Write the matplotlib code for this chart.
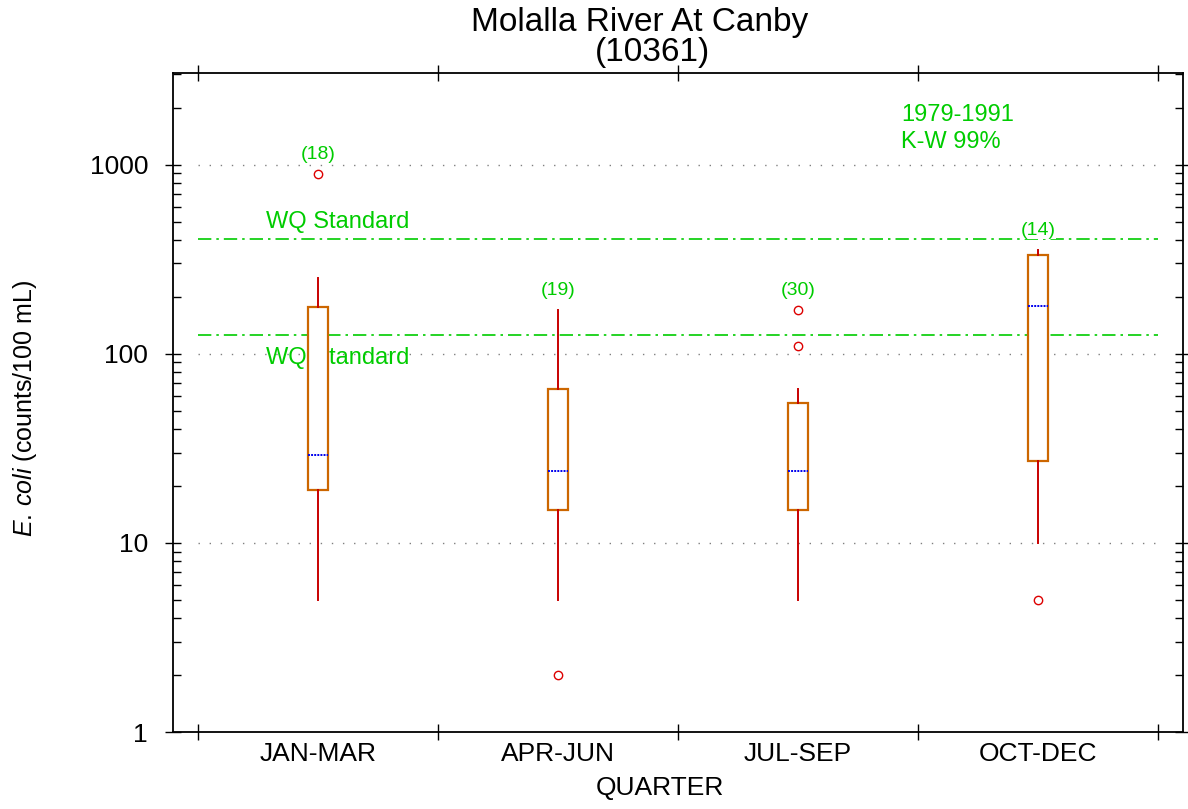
import matplotlib
matplotlib.use("Agg")
import matplotlib.pyplot as plt
import numpy as np

plt.rcParams['font.family'] = ['Liberation Sans', 'DejaVu Sans']
plt.rcParams['mathtext.fontset'] = 'custom'
plt.rcParams['mathtext.it'] = 'Liberation Sans:italic'
plt.rcParams['mathtext.rm'] = 'Liberation Sans'

quarters = ['JAN-MAR', 'APR-JUN', 'JUL-SEP', 'OCT-DEC']
counts = [18, 19, 30, 14]
whis_lo = [5, 5, 5, 10]
q1 = [19, 15, 15, 27]
med = [29, 24, 24, 178]
q3 = [176, 65, 55, 334]
whis_hi = [250, 170, 65, 355]
outliers = [[890], [2], [110, 170], [5]]
wq_standards = [406, 126]
grid_vals = [10, 100, 1000]

fig = plt.figure(figsize=(11.88, 8.09), dpi=100)
ax = fig.add_axes([173/1188, 1-732/809, 1010/1188, 659/809])

green = '#00cc00'
pos = np.arange(1, len(quarters) + 1)

# grid and standards
ax.hlines(grid_vals, 0.5, 4.5, colors='#808080', linestyles=(0, (1, 7)), lw=1.0, zorder=1)
ax.hlines(wq_standards, 0.5, 4.5, colors=green, linestyles=(0, (8, 3, 1.5, 3)), lw=1.2, zorder=1)

stats = []
for i in range(len(quarters)):
    stats.append(dict(med=med[i], q1=q1[i], q3=q3[i], whislo=whis_lo[i],
                      whishi=whis_hi[i], fliers=outliers[i]))

ax.bxp(stats, positions=pos, widths=0.085, showcaps=False, patch_artist=True,
       boxprops=dict(facecolor='white', edgecolor='#cc6600', lw=1.6),
       whiskerprops=dict(color='#c80000', lw=1.4),
       medianprops=dict(color='#0000ee', lw=1.4, ls=(0, (1, 0.6))),
       flierprops=dict(marker='o', markersize=6, markerfacecolor='none',
                       markeredgecolor='#dd0000', markeredgewidth=1.0),
       zorder=3)

for i in range(len(quarters)):
    top = max([whis_hi[i]] + outliers[i])
    ax.annotate('(%d)' % counts[i], (pos[i], top), xytext=(0, 14),
                textcoords='offset points', ha='center', va='center',
                fontsize=14, color=green, zorder=5,
                bbox=dict(facecolor='white', edgecolor='none', pad=0.5))

ax.annotate('WQ Standard', (0.783, wq_standards[0]), xytext=(0, 12),
            textcoords='offset points', ha='left', va='center', fontsize=17, color=green, zorder=2)
ax.annotate('WQ Standard', (0.783, wq_standards[1]), xytext=(0, -17),
            textcoords='offset points', ha='left', va='center', fontsize=17, color=green, zorder=2)
ax.text(3.43, 1840, '1979-1991', fontsize=17, color=green, ha='left', va='center')
ax.text(3.43, 1320, 'K-W 99%', fontsize=17, color=green, ha='left', va='center')

ax.set_yscale('log')
ax.set_ylim(1, 3050)
ax.set_xlim(0.396, 4.604)
ax.set_yticks([1, 10, 100, 1000])
ax.set_yticklabels(['1', '10', '100', '1000'], fontsize=19)
ax.set_xticks(pos)
ax.set_xticklabels(quarters, fontsize=19)
ax.set_xticks(np.arange(0.5, 4.6, 1.0), minor=True)
ax.tick_params(axis='x', which='major', length=0, pad=7)
ax.tick_params(axis='x', which='minor', direction='inout', length=11, width=1,
               top=True, bottom=True)
ax.tick_params(axis='y', which='major', direction='inout', length=12, width=1,
               left=True, right=True, pad=12)
ax.tick_params(axis='y', which='minor', direction='in', length=6, width=1,
               left=True, right=True, labelleft=False)
for s in ax.spines.values():
    s.set_linewidth(1.3)

fig.text(25/1188, 1-409/809, r'$\mathit{E.\,coli}$ (counts/100 mL)', fontsize=18,
         rotation=90, ha='center', va='center')
fig.text(660/1188, 1-788/809, 'QUARTER', fontsize=19, ha='center', va='center')
fig.text(640/1188, 1-22/809, 'Molalla River At Canby', fontsize=24, ha='center', va='center')
fig.text(652/1188, 1-52/809, '(10361)', fontsize=24, ha='center', va='center')

fig.savefig('out.png', dpi=100)
